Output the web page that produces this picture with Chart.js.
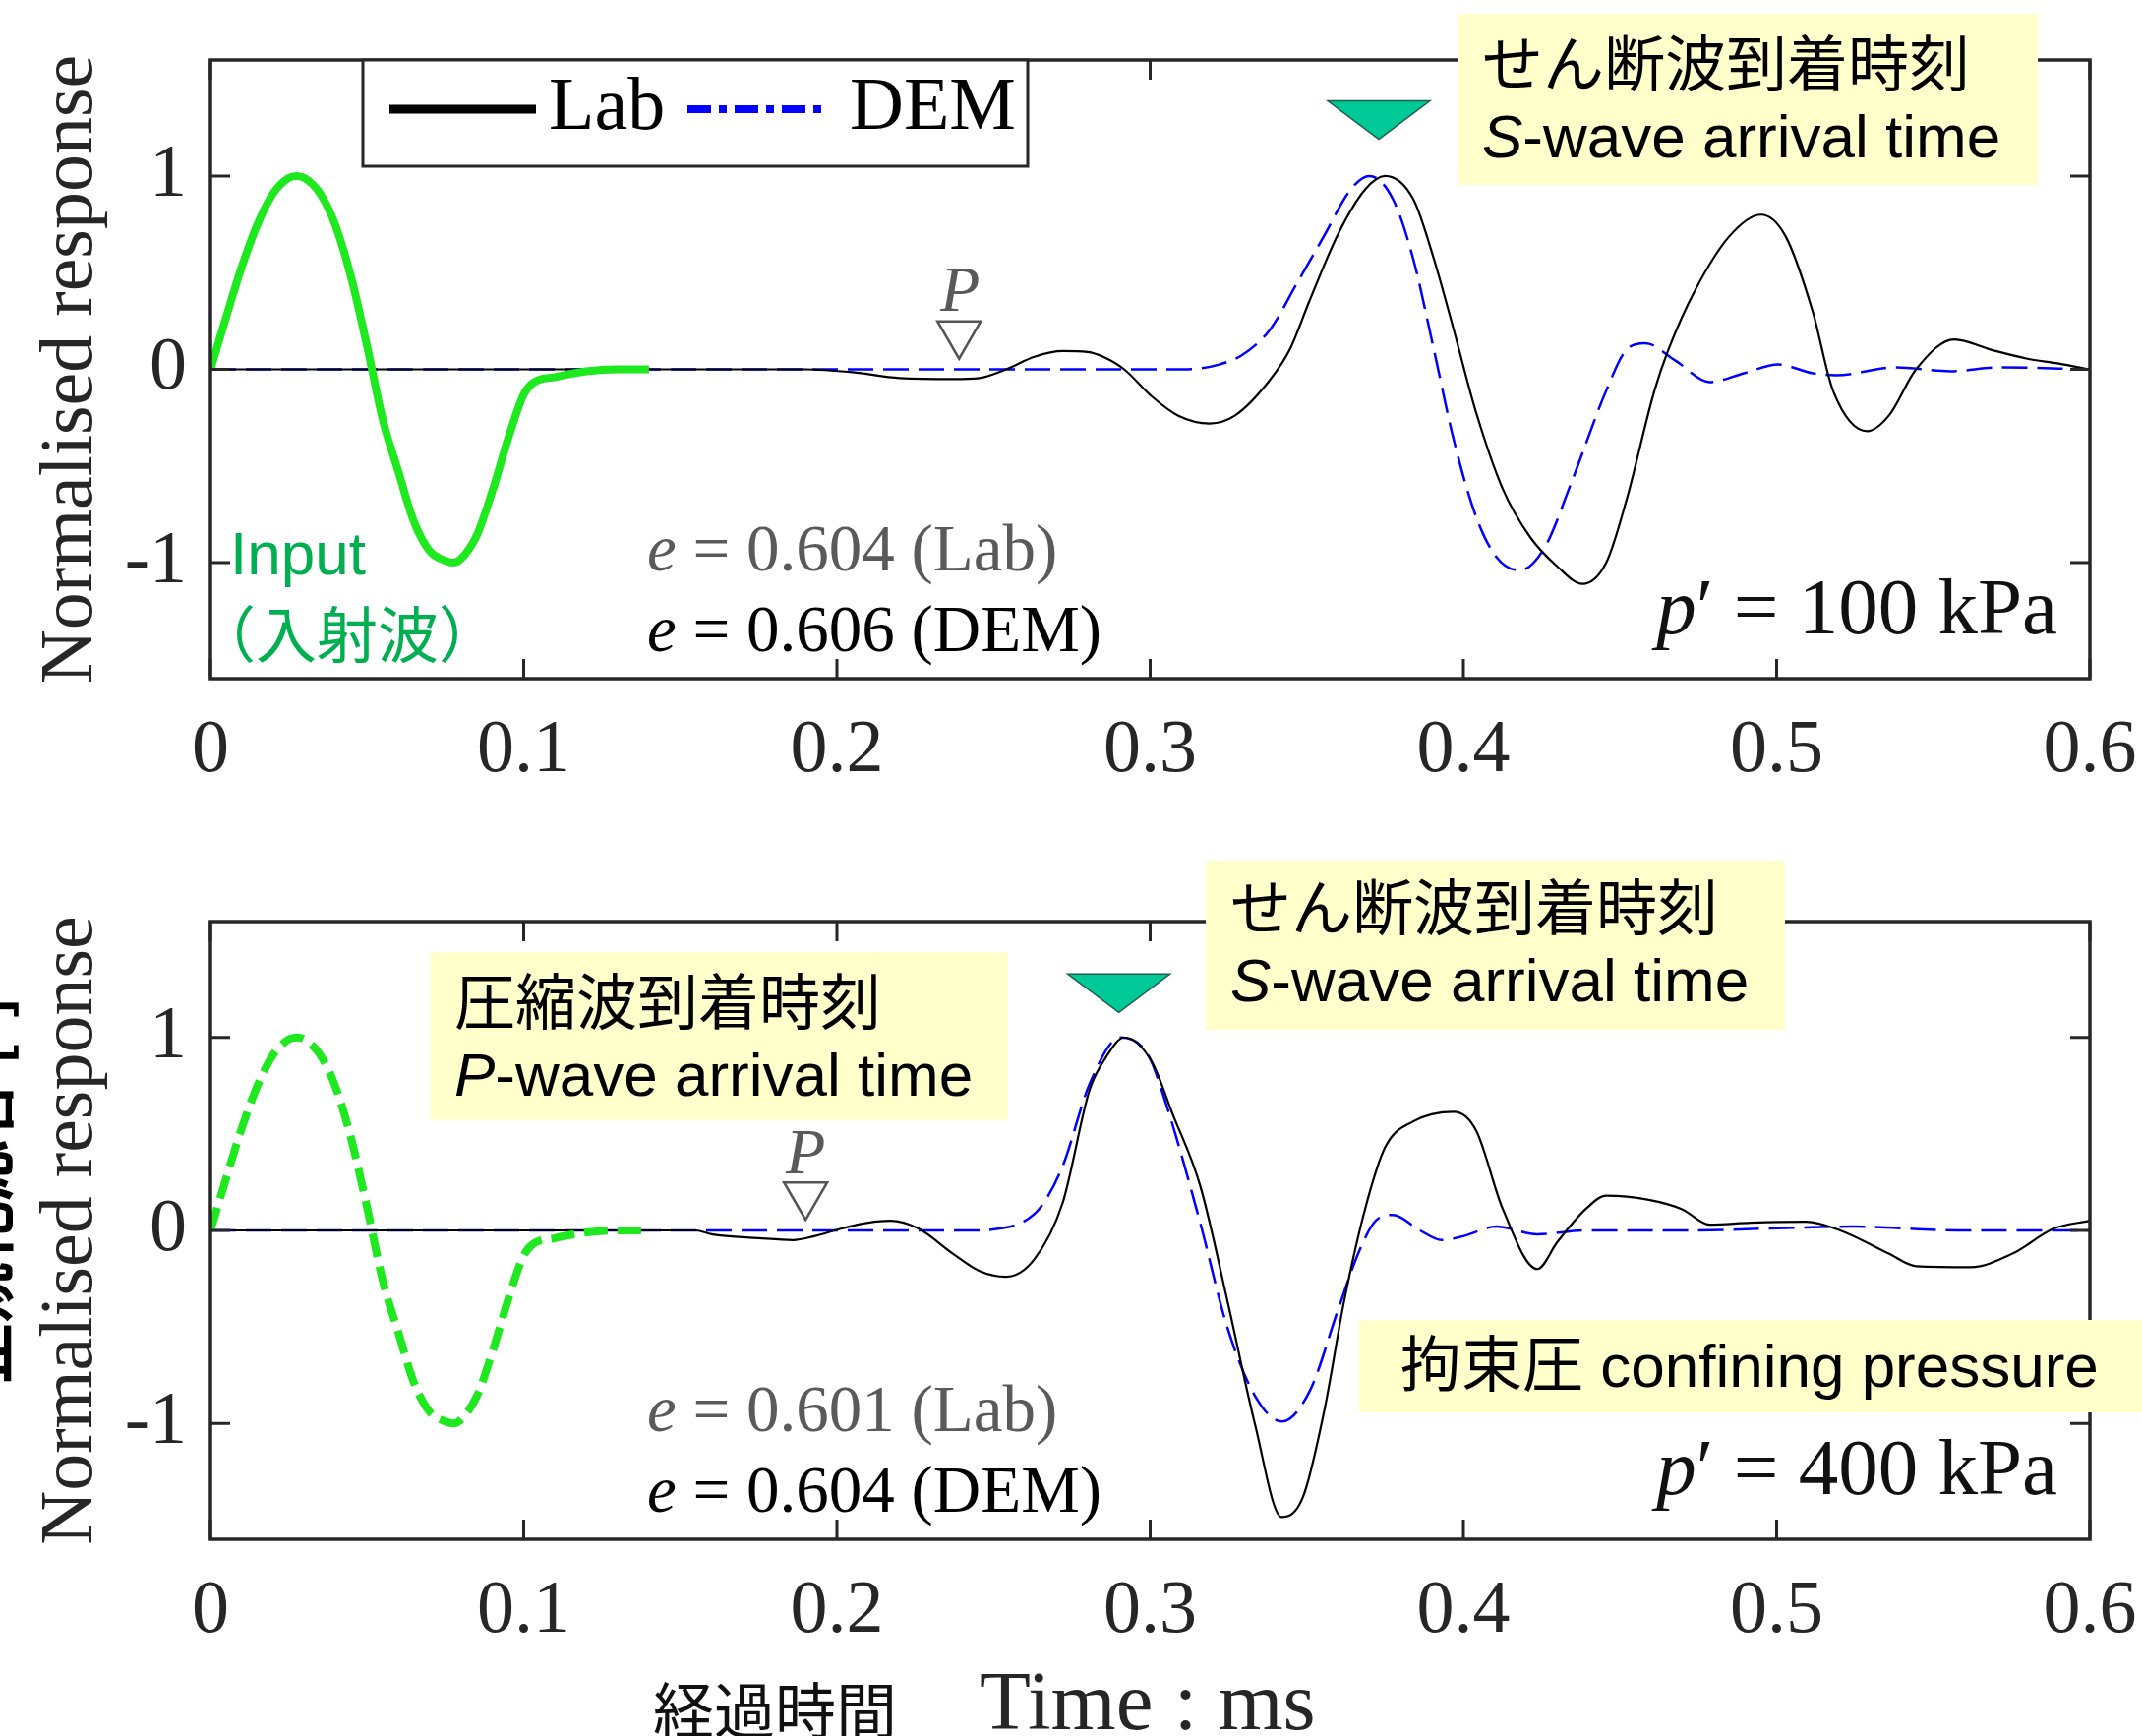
<!DOCTYPE html>
<html>
<head>
<meta charset="utf-8">
<script src="https://cdn.jsdelivr.net/npm/chart.js@4.4.1/dist/chart.umd.min.js"></script>
<style>
html,body{margin:0;padding:0;background:#fff;}
#page{position:relative;width:2178px;height:1765px;overflow:hidden;background:#fff;}
#page canvas{position:absolute;left:0;}
.ov{position:absolute;white-space:nowrap;}
.serif{font-family:"Liberation Serif","Times New Roman",serif;}
.note{position:absolute;background:#ffffcc;box-sizing:border-box;white-space:nowrap;
  font-family:"Liberation Sans",Arial,"Noto Sans CJK JP",sans-serif;font-size:62px;line-height:72px;color:#000;}
.cjk{font-family:"Noto Sans CJK JP",sans-serif;}
</style>
</head>
<body>
<div id="page">
  <canvas id="cTop" width="2178" height="840" style="top:0;width:2178px;height:840px"></canvas>
  <canvas id="cBot" width="2178" height="905" style="top:860px;width:2178px;height:905px"></canvas>

  <!-- clipped vertical label at the far left -->
  <div class="ov cjk" style="left:-209px;top:1183px;width:380px;height:68px;line-height:68px;font-size:62px;font-weight:bold;text-align:center;transform:rotate(-90deg);color:#000">正規化応答 [-]</div>

  <!-- top panel notes -->
  <div class="note" style="left:1482px;top:14px;width:590px;height:174px;padding:17px 0 0 25px">せん断波到着時刻<br><i>S</i>-wave arrival time</div>
  <div class="ov serif" style="left:956px;top:254px;font-size:66px;line-height:79px;font-style:italic;color:#595959">P</div>
  <div class="ov" style="left:234px;top:526px;font-family:'Liberation Sans',Arial,sans-serif;font-size:62px;line-height:74px;color:#00b050">Input</div>
  <div class="ov cjk" style="left:198px;top:605px;font-size:62px;line-height:74px;color:#00b050">（入射波）</div>
  <div class="ov serif" style="left:658px;top:516px;font-size:67px;line-height:82px;color:#5a5a5a"><i>e</i> = 0.604 (Lab)</div>
  <div class="ov serif" style="left:658px;top:598px;font-size:67px;line-height:82px;color:#000"><i>e</i> = 0.606 (DEM)</div>
  <div class="ov serif" style="right:86px;top:569px;font-size:81px;line-height:97px;color:#111"><i>p</i>′ = 100 kPa</div>

  <!-- bottom panel notes -->
  <div class="note" style="left:437px;top:968px;width:588px;height:171px;padding:17px 0 0 25px">圧縮波到着時刻<br><i>P</i>-wave arrival time</div>
  <div class="note" style="left:1226px;top:875px;width:589px;height:172px;padding:14px 0 0 25px">せん断波到着時刻<br><i>S</i>-wave arrival time</div>
  <div class="note" style="left:1382px;top:1342px;width:796px;height:94px;padding:11px 0 0 42px">拘束圧 confining pressure</div>
  <div class="ov serif" style="left:799px;top:1131px;font-size:66px;line-height:79px;font-style:italic;color:#595959">P</div>
  <div class="ov serif" style="left:658px;top:1391px;font-size:67px;line-height:82px;color:#5a5a5a"><i>e</i> = 0.601 (Lab)</div>
  <div class="ov serif" style="left:658px;top:1473px;font-size:67px;line-height:82px;color:#000"><i>e</i> = 0.604 (DEM)</div>
  <div class="ov serif" style="right:86px;top:1444px;font-size:81px;line-height:97px;color:#111"><i>p</i>′ = 400 kPa</div>

  <!-- x axis title -->
  <div class="ov cjk" style="left:664px;top:1699px;font-size:62px;line-height:74px;color:#111">経過時間</div>
  <div class="ov serif" style="left:996px;top:1678px;font-size:85px;line-height:102px;color:#262626">Time : ms</div>
</div>

<script>
// ---- data ----
const xTickVals = [0, 0.1, 0.2, 0.3, 0.4, 0.5, 0.6];
const yTickVals = [-1, 0, 1];

// input wave (same for both pressures)
const inputT = [0, 0.005, 0.01, 0.015, 0.02, 0.025, 0.0275, 0.03, 0.035, 0.04, 0.045, 0.05, 0.055, 0.06, 0.065, 0.07, 0.075, 0.0775, 0.08, 0.085, 0.09, 0.095, 0.1, 0.103, 0.11, 0.12, 0.13, 0.14];
const inputV = [0, 0.27, 0.53, 0.75, 0.91, 0.99, 1.0, 0.99, 0.91, 0.74, 0.47, 0.12, -0.26, -0.53, -0.79, -0.94, -0.99, -1.0, -0.98, -0.86, -0.63, -0.36, -0.13, -0.07, -0.04, -0.01, 0, 0];

// p' = 100 kPa
const lab100T = [0, 0.19, 0.205, 0.22, 0.237, 0.2455, 0.254, 0.263, 0.272, 0.28, 0.285, 0.2917, 0.3005, 0.309, 0.319, 0.327, 0.338, 0.3445, 0.351, 0.36, 0.3686, 0.375, 0.384, 0.3906, 0.397, 0.404, 0.4126, 0.4214, 0.43, 0.438, 0.4456, 0.452, 0.461, 0.4654, 0.474, 0.485, 0.495, 0.5028, 0.5115, 0.518, 0.529, 0.5358, 0.5445, 0.5567, 0.5687, 0.5797, 0.59, 0.6];
const lab100V = [0, 0, -0.015, -0.045, -0.05, -0.045, 0, 0.065, 0.095, 0.09, 0.065, 0, -0.14, -0.24, -0.28, -0.24, -0.06, 0.1, 0.36, 0.70, 0.93, 1.0, 0.88, 0.57, 0.2, -0.22, -0.62, -0.87, -1.02, -1.11, -1.0, -0.68, -0.11, 0.1, 0.41, 0.69, 0.80, 0.69, 0.30, -0.11, -0.32, -0.24, 0, 0.155, 0.10, 0.056, 0.03, 0];
const dem100T = [0, 0.31, 0.316, 0.322, 0.329, 0.338, 0.3467, 0.3555, 0.364, 0.370, 0.3775, 0.384, 0.3906, 0.397, 0.404, 0.4105, 0.418, 0.426, 0.4346, 0.4456, 0.452, 0.458, 0.4677, 0.4786, 0.4896, 0.5005, 0.5115, 0.519, 0.538, 0.5555, 0.571, 0.6];
const dem100V = [0, 0, 0.005, 0.025, 0.07, 0.2, 0.44, 0.69, 0.93, 1.0, 0.88, 0.57, 0.1, -0.37, -0.76, -0.97, -1.04, -0.92, -0.58, -0.11, 0.1, 0.135, 0.045, -0.066, -0.02, 0.025, -0.02, -0.03, 0.01, -0.01, 0.01, 0];

// p' = 400 kPa
const lab400T = [0, 0.155, 0.16, 0.175, 0.186, 0.1927, 0.2015, 0.21, 0.217, 0.226, 0.237, 0.2455, 0.254, 0.263, 0.272, 0.2807, 0.286, 0.2917, 0.3005, 0.307, 0.316, 0.3246, 0.3334, 0.342, 0.3488, 0.3555, 0.362, 0.3686, 0.375, 0.384, 0.397, 0.404, 0.4126, 0.4236, 0.430, 0.439, 0.4456, 0.4588, 0.4698, 0.4786, 0.4918, 0.5094, 0.5203, 0.5358, 0.5445, 0.562, 0.5753, 0.5885, 0.6];
const lab400V = [0, 0, -0.02, -0.04, -0.05, -0.03, 0.01, 0.04, 0.05, 0.01, -0.12, -0.21, -0.24, -0.15, 0.14, 0.73, 0.90, 1.0, 0.875, 0.61, 0.23, -0.36, -1.0, -1.485, -1.38, -0.94, -0.36, 0.11, 0.43, 0.565, 0.615, 0.52, 0.11, -0.2, -0.06, 0.11, 0.18, 0.16, 0.11, 0.03, 0.04, 0.045, 0, -0.12, -0.185, -0.19, -0.12, 0.01, 0.05];
const dem400T = [0, 0.245, 0.252, 0.2589, 0.265, 0.272, 0.2807, 0.2905, 0.2993, 0.3048, 0.3158, 0.3246, 0.3334, 0.342, 0.351, 0.36, 0.3664, 0.372, 0.3775, 0.3862, 0.393, 0.40, 0.4105, 0.4236, 0.439, 0.47, 0.5247, 0.5577, 0.6];
const dem400V = [0, 0, 0.01, 0.04, 0.12, 0.33, 0.76, 1.0, 0.91, 0.67, 0.05, -0.5, -0.855, -0.99, -0.83, -0.41, -0.12, 0.05, 0.08, 0, -0.05, -0.03, 0.02, -0.02, 0, 0, 0.02, 0, 0];

// arrival-time markers [100 kPa, 400 kPa]
const sArrivalT = [0.373, 0.290];
const pArrivalT = [0.239, 0.190];

// ---- styling helpers ----
const INK = '#262626';
const SERIF = '"Liberation Serif", "Times New Roman", serif';
const pts = (t, v) => t.map((x, i) => ({ x, y: v[i] }));

const boxTicks = {
  id: 'boxTicks',
  afterDatasetsDraw(chart){
    const { ctx, chartArea: a, scales: { x, y } } = chart;
    const len = 20;
    ctx.save();
    ctx.strokeStyle = INK;
    ctx.lineWidth = 3;
    ctx.beginPath();
    x.ticks.forEach(t => {
      const px = x.getPixelForValue(t.value);
      ctx.moveTo(px, a.bottom); ctx.lineTo(px, a.bottom - len);
      ctx.moveTo(px, a.top);    ctx.lineTo(px, a.top + len);
    });
    y.ticks.forEach(t => {
      const py = y.getPixelForValue(t.value);
      ctx.moveTo(a.left, py);  ctx.lineTo(a.left + len, py);
      ctx.moveTo(a.right, py); ctx.lineTo(a.right - len, py);
    });
    ctx.stroke();
    ctx.lineWidth = 3.5;
    ctx.strokeRect(a.left, a.top, a.right - a.left, a.bottom - a.top);
    ctx.restore();
  }
};

// S (filled teal) and P (hollow) arrival triangles
const arrivals = {
  id: 'arrivals',
  afterDraw(chart, args, o){
    const { ctx, scales: { x, y } } = chart;
    const tri = (t, apex, w, h, fill, stroke, lw) => {
      const px = x.getPixelForValue(t), py = y.getPixelForValue(apex);
      ctx.beginPath();
      ctx.moveTo(px - w / 2, py - h);
      ctx.lineTo(px + w / 2, py - h);
      ctx.lineTo(px, py);
      ctx.closePath();
      ctx.fillStyle = fill; ctx.fill();
      ctx.strokeStyle = stroke; ctx.lineWidth = lw; ctx.stroke();
    };
    ctx.save();
    tri(o.s, o.sApex, 104, 39, '#00c896', '#1d5e4e', 1.5);
    tri(o.p, 0.055, 44, 38, '#ffffff', '#555555', 2.5);
    ctx.restore();
  }
};

// legend box of the top panel
const boxLegend = {
  id: 'boxLegend',
  afterDraw(chart, args, o){
    if(!o.show) return;
    const ctx = chart.ctx;
    const ds = chart.data.datasets;
    const lab = ds.find(d => d.label === 'Lab'), dem = ds.find(d => d.label === 'DEM');
    ctx.save();
    ctx.fillStyle = '#fff';
    ctx.fillRect(369, 61, 676, 108);
    ctx.strokeStyle = INK; ctx.lineWidth = 3;
    ctx.strokeRect(369, 61, 676, 108);
    ctx.lineWidth = 9; ctx.strokeStyle = lab.borderColor; ctx.setLineDash([]);
    ctx.beginPath(); ctx.moveTo(396, 111); ctx.lineTo(545, 111); ctx.stroke();
    ctx.lineWidth = 8; ctx.strokeStyle = dem.borderColor; ctx.setLineDash([24, 8, 8, 8]);
    ctx.beginPath(); ctx.moveTo(699, 111); ctx.lineTo(840, 111); ctx.stroke();
    ctx.setLineDash([]);
    ctx.fillStyle = '#000';
    ctx.font = '76px ' + SERIF;
    ctx.textBaseline = 'middle';
    ctx.fillText(lab.label, 558, 111);
    ctx.fillText(dem.label, 864, 111);
    ctx.restore();
  }
};

function makeChart(id, input, lab, dem, opt){
  return new Chart(document.getElementById(id), {
    type: 'line',
    data: { datasets: [
      { label: 'Input', data: input, borderColor: '#1ee81e', borderWidth: 8, borderDash: opt.inputDash },
      { label: 'Lab', data: lab, borderColor: '#000000', borderWidth: 2.2 },
      { label: 'DEM', data: dem, borderColor: '#0000ff', borderWidth: 2.5, borderDash: [26, 10] }
    ]},
    options: {
      responsive: false,
      animation: false,
      elements: { point: { radius: 0 }, line: { cubicInterpolationMode: 'monotone', fill: false } },
      layout: { padding: { top: opt.padTop, right: 53, left: 0, bottom: 0 } },
      plugins: {
        legend: { display: false },
        tooltip: { enabled: false },
        arrivals: { s: opt.s, p: opt.p, sApex: opt.sApex },
        boxLegend: { show: opt.legend }
      },
      scales: {
        x: {
          type: 'linear', min: 0, max: 0.6,
          afterBuildTicks: s => { s.ticks = xTickVals.map(v => ({ value: v })); },
          afterFit: s => { s.height = opt.xHeight; s.paddingLeft = 0; s.paddingRight = 0; },
          grid: { display: false, drawTicks: false },
          border: { display: false },
          ticks: { padding: 28, color: INK, font: { family: SERIF, size: 76 }, callback: v => String(v), maxRotation: 0, autoSkip: false }
        },
        y: {
          min: -1.6, max: 1.6,
          afterBuildTicks: s => { s.ticks = yTickVals.map(v => ({ value: v })); },
          afterFit: s => { s.width = 214; s.paddingTop = 0; s.paddingBottom = 0; },
          grid: { display: false, drawTicks: false },
          border: { display: false },
          ticks: { padding: 24, color: INK, font: { family: SERIF, size: 76 }, callback: v => String(v) },
          title: { display: true, text: 'Normalised response', color: INK, font: { family: SERIF, size: 76 }, padding: { top: 27, bottom: 0 } }
        }
      }
    },
    plugins: [boxTicks, arrivals, boxLegend]
  });
}

makeChart('cTop', pts(inputT, inputV), pts(lab100T, lab100V), pts(dem100T, dem100V),
  { padTop: 61, xHeight: 150, s: sArrivalT[0], p: pArrivalT[0], sApex: 1.19, legend: true, inputDash: [] });
makeChart('cBot', pts(inputT, inputV), pts(lab400T, lab400V), pts(dem400T, dem400V),
  { padTop: 77, xHeight: 200, s: sArrivalT[1], p: pArrivalT[1], sApex: 1.13, legend: false, inputDash: [24, 10] });
</script>
</body>
</html>
